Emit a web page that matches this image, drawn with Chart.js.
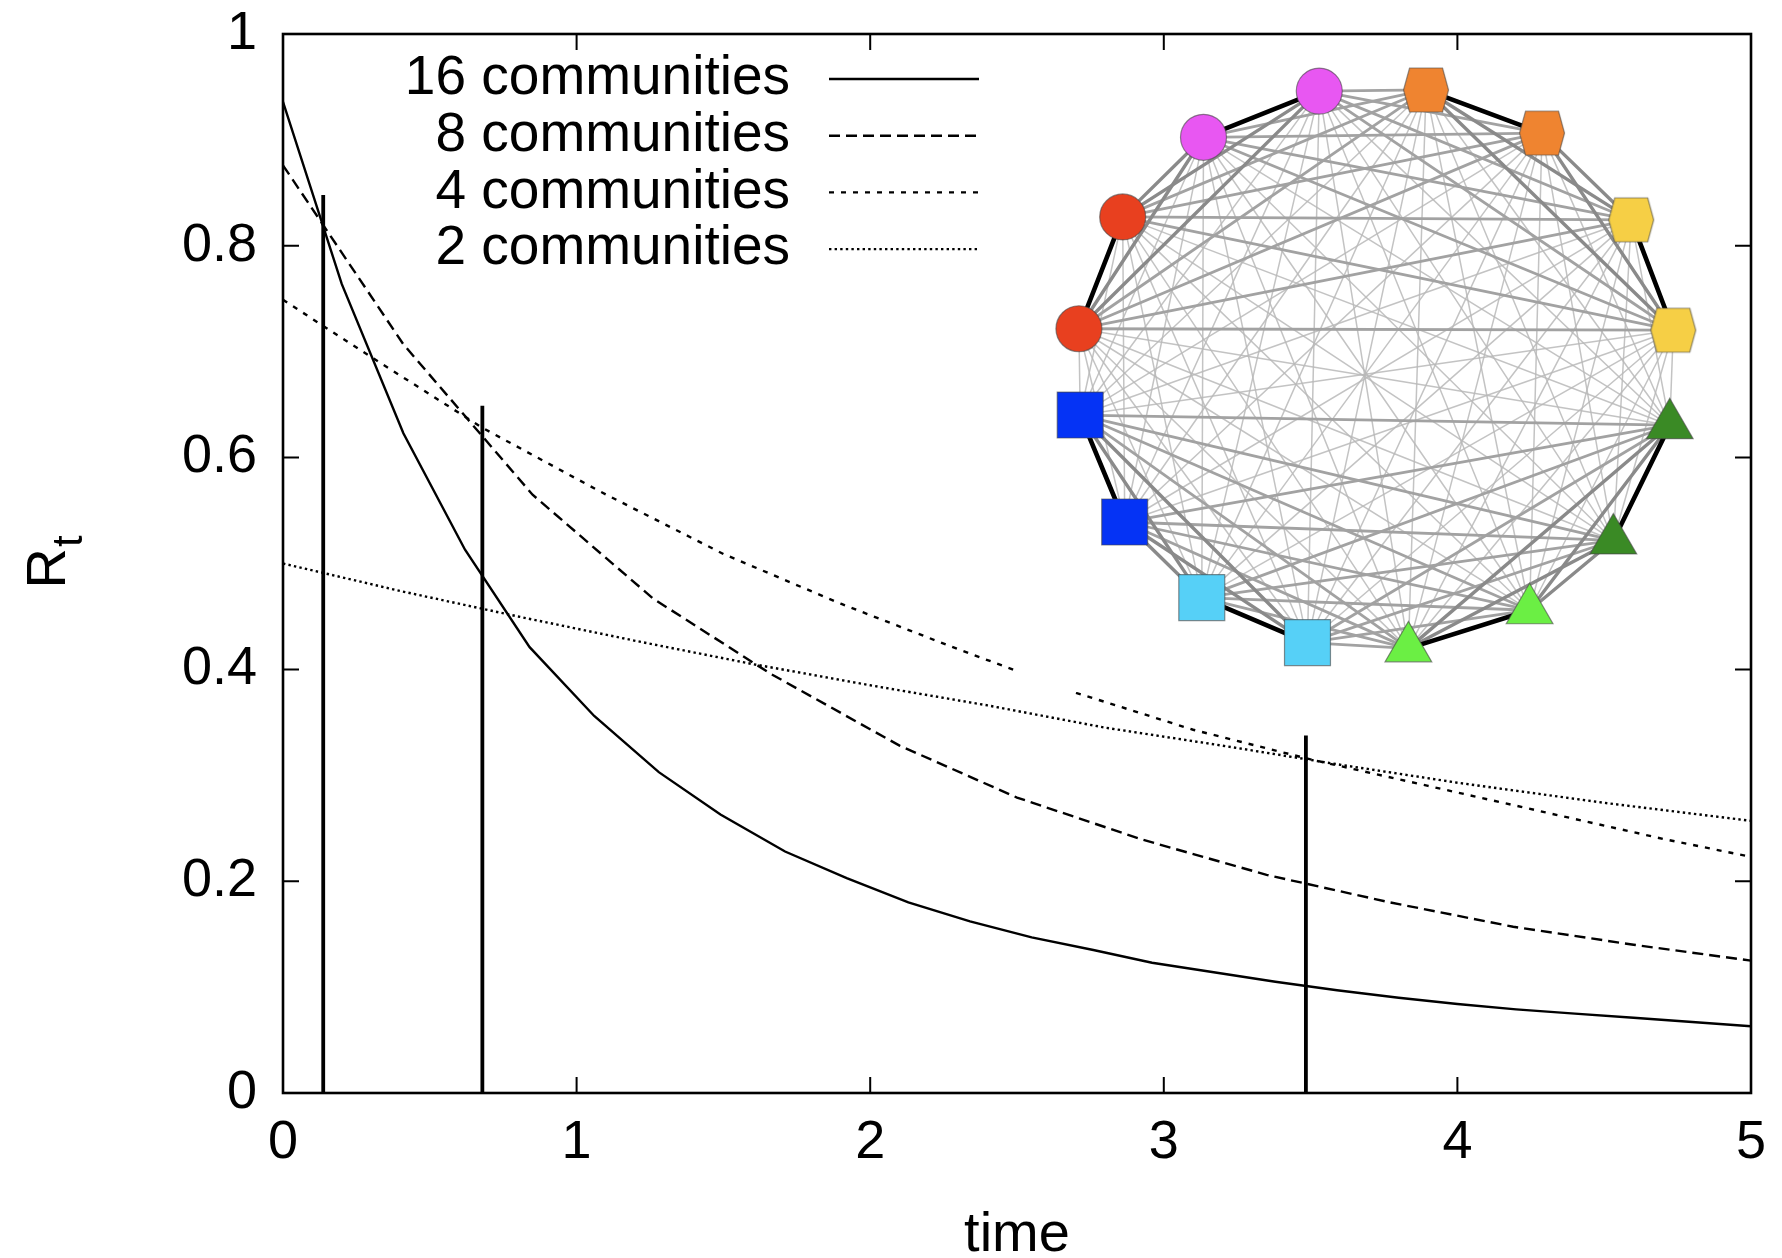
<!DOCTYPE html>
<html>
<head>
<meta charset="utf-8">
<script src="https://cdn.jsdelivr.net/npm/chart.js@4.4.1/dist/chart.umd.min.js"></script>
<style>
  html, body { margin: 0; padding: 0; background: #fff; }
  canvas { display: block; }
</style>
</head>
<body>
<canvas id="grafik" width="1782" height="1258"></canvas>
<script>
// data
const t16 = [0, 0.2, 0.41, 0.62, 0.84, 1.06, 1.28, 1.49, 1.71, 1.92, 2.13, 2.34, 2.55, 2.76, 2.96, 3.17, 3.38, 3.59, 3.8, 4.0, 4.2, 4.4, 4.6, 4.8, 5.0];
const r16 = [0.936, 0.764, 0.623, 0.513, 0.421, 0.356, 0.303, 0.263, 0.228, 0.203, 0.180, 0.162, 0.147, 0.135, 0.123, 0.114, 0.105, 0.097, 0.090, 0.084, 0.079, 0.075, 0.071, 0.067, 0.063];

const t8 = [0, 0.41, 0.85, 1.26, 1.66, 2.1, 2.5, 2.93, 3.35, 3.77, 4.19, 4.6, 5.0];
const r8 = [0.876, 0.707, 0.565, 0.467, 0.396, 0.328, 0.279, 0.239, 0.206, 0.180, 0.157, 0.140, 0.125];

const t4 = [0, 0.3, 0.68, 1.08, 1.5, 1.9, 2.3, 2.7, 3.1, 3.5, 3.9, 4.3, 4.7, 5.0];
const r4 = [0.749, 0.695, 0.628, 0.568, 0.509, 0.462, 0.419, 0.378, 0.343, 0.315, 0.290, 0.265, 0.240, 0.223];

const t2 = [0, 0.4, 0.8, 1.2, 1.6, 2.0, 2.4, 2.8, 3.2, 3.6, 4.0, 4.5, 5.0];
const r2 = [0.500, 0.474, 0.450, 0.427, 0.405, 0.385, 0.366, 0.345, 0.328, 0.310, 0.293, 0.274, 0.257];

// vertical markers
const markerTimes = [0.137, 0.679, 3.484];
const markerTops = [0.848, 0.649, 0.3375];

const seriesLabels = ['16 communities', '8 communities', '4 communities', '2 communities'];
const xTickLabels = ['0', '1', '2', '3', '4', '5'];
const yTickLabels = ['0', '0.2', '0.4', '0.6', '0.8', '1'];

// inset network: 16 nodes, 8 pairs, 4 shape groups, 2 halves (clockwise from top)
const nodeAngles = [9.6, 33.6, 58.3, 82.3, 101.7, 127.7, 149.2, 173.8,
                    193.2, 215.5, 236.9, 260.4, 278.0, 302.4, 324.9, 349.1];
const nodeColors = ['#ef8430', '#ef8430', '#f6cf45', '#f6cf45', '#3a8a25', '#3a8a25', '#6bef44', '#6bef44',
                    '#56d0f7', '#56d0f7', '#0533f5', '#0533f5', '#e8401f', '#e8401f', '#e857f2', '#e857f2'];
const nodeShapes = ['hex', 'hex', 'hex', 'hex', 'triangle', 'triangle', 'triangle', 'triangle',
                    'rect', 'rect', 'rect', 'rect', 'circle', 'circle', 'circle', 'circle'];
const nodePair = [0, 0, 1, 1, 2, 2, 3, 3, 4, 4, 5, 5, 6, 6, 7, 7];
const nodeGroup = [0, 0, 0, 0, 1, 1, 1, 1, 2, 2, 2, 2, 3, 3, 3, 3];
const nodeHalf = [0, 0, 0, 0, 1, 1, 1, 1, 1, 1, 1, 1, 0, 0, 0, 0];
const insetBox = [-1.19, 1.14, -1.149, 1.12]; // in network units

const FONT = 'Liberation Sans, Arial, Helvetica, sans-serif';

function toPoints(xs, ys) {
  return xs.map((x, i) => ({ x: x, y: ys[i] }));
}

function hexCanvas(color) {
  const c = document.createElement('canvas');
  c.width = 48; c.height = 48;
  const g = c.getContext('2d');
  g.beginPath();
  g.moveTo(1.5, 24); g.lineTo(7.5, 2); g.lineTo(40.5, 2);
  g.lineTo(46.5, 24); g.lineTo(40.5, 46); g.lineTo(7.5, 46);
  g.closePath();
  g.fillStyle = color;
  g.fill();
  g.lineWidth = 1.2;
  g.strokeStyle = 'rgba(70,70,70,0.6)';
  g.stroke();
  return c;
}

const hexCache = {};
const nodeStyles = nodeShapes.map((s, i) => {
  if (s !== 'hex') return s;
  if (!hexCache[nodeColors[i]]) hexCache[nodeColors[i]] = hexCanvas(nodeColors[i]);
  return hexCache[nodeColors[i]];
});
const nodeRadius = nodeShapes.map(s => s === 'circle' ? 23 : s === 'rect' ? 32.5 : s === 'triangle' ? 27 : 24);

// nodes sit on the unit ring at the angles read above
const nodePoints = nodeAngles.map(deg => {
  const a = deg * Math.PI / 180;
  return { x: Math.sin(a), y: Math.cos(a) };
});

const datasets = [
  { label: seriesLabels[0], data: toPoints(t16, r16), borderDash: [] },
  { label: seriesLabels[1], data: toPoints(t8, r8), borderDash: [11, 6] },
  { label: seriesLabels[2], data: toPoints(t4, r4), borderDash: [5, 7] },
  { label: seriesLabels[3], data: toPoints(t2, r2), borderDash: [2.4, 3.2] }
].map(d => Object.assign(d, {
  borderColor: '#000',
  borderWidth: 2.4,
  pointRadius: 0,
  tension: 0,
  fill: false
}));

markerTimes.forEach((t, i) => {
  datasets.push({
    label: 'marker' + i,
    data: [{ x: t, y: 0 }, { x: t, y: markerTops[i] }],
    borderColor: '#000',
    borderWidth: 3.8,
    pointRadius: 0,
    fill: false
  });
});

datasets.push({
  type: 'scatter',
  label: 'network',
  data: nodePoints,
  xAxisID: 'nx',
  yAxisID: 'ny',
  order: -1,
  pointStyle: nodeStyles,
  pointRadius: nodeRadius,
  pointBackgroundColor: nodeColors,
  pointBorderColor: 'rgba(70,70,70,0.6)',
  pointBorderWidth: 1.2
});

// frame with inner ticks like gnuplot
const framePlugin = {
  id: 'frame',
  beforeDatasetsDraw(chart) {
    const { ctx, chartArea: a, scales } = chart;
    const len = 16;
    ctx.save();
    ctx.strokeStyle = '#000';
    ctx.lineWidth = 2;
    scales.x.ticks.forEach(tk => {
      const px = scales.x.getPixelForValue(tk.value);
      ctx.beginPath();
      ctx.moveTo(px, a.bottom); ctx.lineTo(px, a.bottom - len);
      ctx.moveTo(px, a.top); ctx.lineTo(px, a.top + len);
      ctx.stroke();
    });
    scales.y.ticks.forEach(tk => {
      const py = scales.y.getPixelForValue(tk.value);
      ctx.beginPath();
      ctx.moveTo(a.left, py); ctx.lineTo(a.left + len, py);
      ctx.moveTo(a.right, py); ctx.lineTo(a.right - len, py);
      ctx.stroke();
    });
    ctx.lineWidth = 2.6;
    ctx.strokeRect(a.left, a.top, a.right - a.left, a.bottom - a.top);
    ctx.restore();
  }
};

// white inset panel and network edges, drawn just before the nodes
const insetPlugin = {
  id: 'inset',
  beforeDatasetDraw(chart, args) {
    if (chart.data.datasets[args.index].label !== 'network') return;
    const { ctx, scales } = chart;
    const x0 = scales.nx.getPixelForValue(insetBox[0]);
    const x1 = scales.nx.getPixelForValue(insetBox[1]);
    const y0 = scales.ny.getPixelForValue(insetBox[2]);
    const y1 = scales.ny.getPixelForValue(insetBox[3]);
    ctx.save();
    ctx.fillStyle = '#fff';
    ctx.fillRect(x0, y1, x1 - x0, y0 - y1);
    const pts = args.meta.data;
    const levels = [[], [], [], []];
    for (let i = 0; i < pts.length; i++) {
      for (let j = i + 1; j < pts.length; j++) {
        let lv = 0;
        if (nodePair[i] === nodePair[j]) lv = 3;
        else if (nodeGroup[i] === nodeGroup[j]) lv = 2;
        else if (nodeHalf[i] === nodeHalf[j]) lv = 1;
        levels[lv].push([pts[i], pts[j]]);
      }
    }
    const styles = [
      { color: 'rgba(185,185,185,0.85)', width: 1.5 },
      { color: 'rgb(162,162,162)', width: 2.8 },
      { color: 'rgb(138,138,138)', width: 3.4 },
      { color: '#000', width: 4.6 }
    ];
    ctx.lineCap = 'round';
    levels.forEach((edges, lv) => {
      ctx.strokeStyle = styles[lv].color;
      ctx.lineWidth = styles[lv].width;
      edges.forEach(e => {
        ctx.beginPath();
        ctx.moveTo(e[0].x, e[0].y);
        ctx.lineTo(e[1].x, e[1].y);
        ctx.stroke();
      });
    });
    ctx.restore();
  }
};

// key in the top left, text right aligned, sample on the right
const keyPlugin = {
  id: 'key',
  afterDatasetsDraw(chart) {
    const { ctx, chartArea: a } = chart;
    const textRight = a.left + 507;
    const lineStart = a.left + 546;
    const lineEnd = a.left + 696;
    ctx.save();
    ctx.font = '55px ' + FONT;
    ctx.fillStyle = '#000';
    ctx.textAlign = 'right';
    ctx.textBaseline = 'middle';
    for (let i = 0; i < 4; i++) {
      const ds = chart.data.datasets[i];
      const y = a.top + 45 + i * 56.7;
      ctx.fillText(ds.label, textRight, y);
      ctx.beginPath();
      ctx.setLineDash(ds.borderDash);
      ctx.lineWidth = ds.borderWidth;
      ctx.strokeStyle = ds.borderColor;
      ctx.moveTo(lineStart, y);
      ctx.lineTo(lineEnd, y);
      ctx.stroke();
    }
    ctx.restore();
  }
};

// y title R with subscript t
const yTitlePlugin = {
  id: 'ytitle',
  afterDraw(chart) {
    const { ctx, chartArea: a } = chart;
    const cy = (a.top + a.bottom) / 2 + 6;
    ctx.save();
    ctx.translate(65, cy);
    ctx.rotate(-Math.PI / 2);
    ctx.fillStyle = '#000';
    ctx.textBaseline = 'alphabetic';
    ctx.textAlign = 'left';
    ctx.font = '56px ' + FONT;
    const w = ctx.measureText('R').width;
    ctx.fillText('R', -19, 0);
    ctx.font = '42px ' + FONT;
    ctx.fillText('t', -19 + w + 1, 17);
    ctx.restore();
  }
};

// outside tick marks are kept but made invisible, so they only add label spacing
const hiddenTicks = { display: true, drawOnChartArea: false, drawTicks: true, color: 'rgba(0,0,0,0)' };

const ctx = document.getElementById('grafik').getContext('2d');
window.chartRt = new Chart(ctx, {
  type: 'line',
  data: { datasets: datasets },
  plugins: [framePlugin, insetPlugin, keyPlugin, yTitlePlugin],
  options: {
    responsive: false,
    devicePixelRatio: 1,
    animation: false,
    layout: { autoPadding: false, padding: { left: 0, right: 31, top: 34, bottom: 0 } },
    plugins: {
      legend: { display: false },
      tooltip: { enabled: false }
    },
    scales: {
      x: {
        type: 'linear',
        min: 0,
        max: 5,
        grid: Object.assign({ tickLength: 15 }, hiddenTicks),
        border: { display: false },
        afterFit: s => { s.height = 165; },
        ticks: {
          stepSize: 1,
          padding: 3,
          color: '#000',
          font: { family: FONT, size: 54 },
          callback: (v, i) => xTickLabels[i]
        },
        title: {
          display: true,
          text: 'time',
          color: '#000',
          font: { family: FONT, size: 56, lineHeight: 0.8 },
          padding: 0
        }
      },
      y: {
        type: 'linear',
        min: 0,
        max: 1,
        grid: Object.assign({ tickLength: 24.5 }, hiddenTicks),
        border: { display: false },
        afterFit: s => { s.width = 283; },
        ticks: {
          stepSize: 0.2,
          padding: 1.5,
          color: '#000',
          font: { family: FONT, size: 54 },
          callback: (v, i) => yTickLabels[i]
        }
      },
      nx: { type: 'linear', axis: 'x', display: false, min: -3.6433, max: 1.25 },
      ny: { type: 'linear', axis: 'y', display: false, min: -2.5709, max: 1.1844 }
    }
  }
});
</script>
</body>
</html>
